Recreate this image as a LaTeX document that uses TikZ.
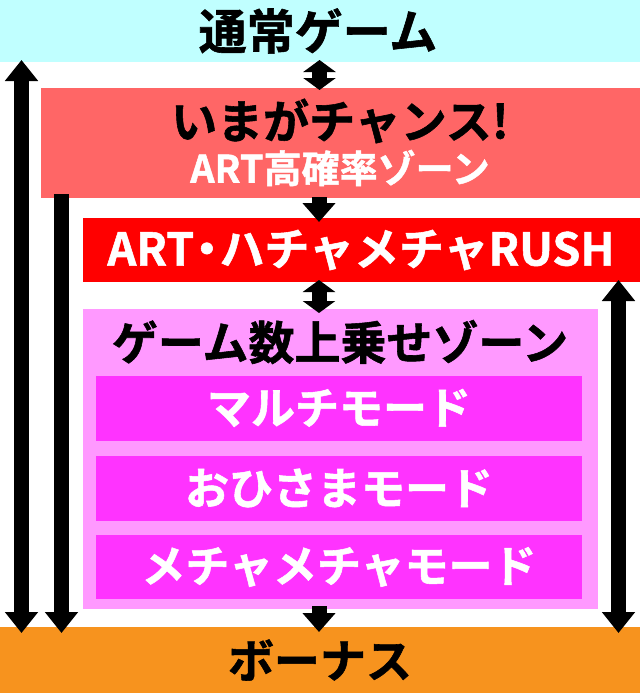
\documentclass[tikz,border=0pt]{standalone}
\usepackage{fontspec}
\setmainfont{Noto Sans CJK JP}[BoldFont={Noto Sans CJK JP Bold}, BoldFeatures={FakeBold=1.2}]
\usetikzlibrary{arrows.meta}
\definecolor{cyanbg}{RGB}{192,255,255}
\definecolor{pinkbg}{RGB}{255,102,102}
\definecolor{redbg}{RGB}{255,0,0}
\definecolor{lpink}{RGB}{255,153,255}
\definecolor{magbg}{RGB}{255,51,255}
\definecolor{orangebg}{RGB}{247,147,30}
\tikzset{
  box/.style={rectangle, draw=none, inner sep=0pt, outer sep=0pt, anchor=north west},
  lbl/.style={inner sep=0pt, font=\bfseries\fontsize{#1}{#1}\selectfont},
  longarrow/.style={line width=15pt, -{Triangle[width=32pt,length=21pt]}},
  longdouble/.style={line width=15pt, {Triangle[width=32pt,length=21pt]}-{Triangle[width=32pt,length=21pt]}},
  shortdouble/.style={line width=15pt, {Triangle[width=32pt,length=12pt]}-{Triangle[width=32pt,length=12pt]}},
  shortarrow/.style={line width=15pt, -{Triangle[width=32pt,length=19pt]}},
}
\begin{document}
\begin{tikzpicture}[x=1pt,y=-1pt]
\useasboundingbox (0,0) rectangle (640,693);
% boxes
\node[box, fill=cyanbg, minimum width=640pt, minimum height=62.5pt] (normal) at (0,0) {};
\node[box, fill=pinkbg, minimum width=599pt, minimum height=110pt] (chance) at (41,88) {};
\node[box, fill=redbg, minimum width=557pt, minimum height=64pt] (rush) at (83,218) {};
\node[box, fill=lpink, minimum width=515pt, minimum height=300pt] (zone) at (83,309) {};
\node[box, fill=magbg, minimum width=486pt, minimum height=65.5pt] (m1) at (96,375.5) {};
\node[box, fill=magbg, minimum width=486pt, minimum height=65pt] (m2) at (96,456) {};
\node[box, fill=magbg, minimum width=486pt, minimum height=64pt] (m3) at (96,535) {};
\node[box, fill=orangebg, minimum width=640pt, minimum height=66pt] (bonus) at (0,627) {};
% texts
\node[lbl=48] (tnormal) at (318,31) {通常ゲーム};
\node[lbl=46] (tchance) at (340,121) {いまがチャンス!};
\node[lbl=38, text=white] (thigh) at (340,168) {ART高確率ゾーン};
\node[lbl=45, text=white] (trush) at (361,250) {ART\kern-0.22em・\kern-0.22em ハチャメチャRUSH};
\node[lbl=46] (tzone) at (340,342) {ゲーム数上乗せゾーン};
\node[lbl=44, text=white] (tm1) at (339,408) {マルチモード};
\node[lbl=44, text=white] (tm2) at (339,488) {おひさまモード};
\node[lbl=44, text=white] (tm3) at (339,567) {メチャメチャモード};
\node[lbl=46] (tbonus) at (320,660) {ボーナス};
% arrow end points
\coordinate (la) at (21.5,60);
\coordinate (lb) at (21.5,633);
\coordinate (sa) at (61.5,194);
\coordinate (sb) at (61.5,633);
\coordinate (ra) at (618.5,280);
\coordinate (rb) at (618.5,633);
\coordinate (c1a) at (319.5,60);
\coordinate (c1b) at (319.5,90);
\coordinate (c2a) at (319,197);
\coordinate (c2b) at (319,222);
\coordinate (c3a) at (319,280);
\coordinate (c3b) at (319,313);
\coordinate (c4a) at (319,606);
\coordinate (c4b) at (319,632);
% arrows
\draw[longdouble] (la) -- (lb);
\draw[longarrow] (sa) -- (sb);
\draw[longdouble] (ra) -- (rb);
\draw[shortdouble] (c1a) -- (c1b);
\draw[shortarrow] (c2a) -- (c2b);
\draw[shortdouble] (c3a) -- (c3b);
\draw[shortarrow] (c4a) -- (c4b);
\end{tikzpicture}
\end{document}
